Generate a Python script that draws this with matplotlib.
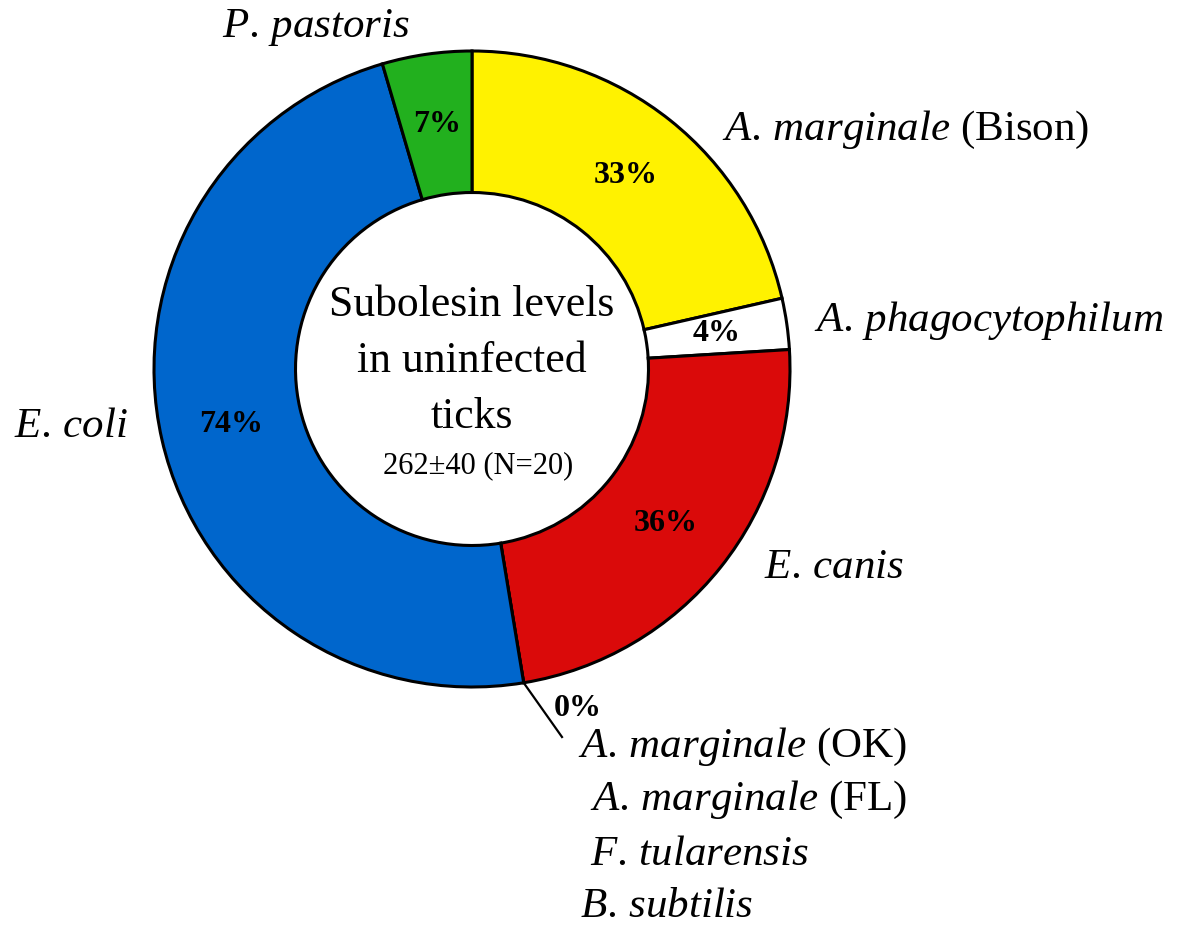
import numpy as np
import matplotlib
matplotlib.use("Agg")
import matplotlib.pyplot as plt

plt.rcParams['font.family'] = ['Liberation Serif', 'DejaVu Serif']
plt.rcParams['mathtext.fontset'] = 'custom'
plt.rcParams['mathtext.rm'] = 'Liberation Serif'
plt.rcParams['mathtext.it'] = 'Liberation Serif:italic'
plt.rcParams['mathtext.bf'] = 'Liberation Serif:bold'

# ---- data ----
organisms = ["A. marginale (Bison)", "A. phagocytophilum", "E. canis",
             "0% group", "E. coli", "P. pastoris"]
values = [33, 4, 36, 0, 74, 7]
pct_labels = ["33%", "4%", "36%", "", "74%", "7%"]
colors = ["#FFF200", "#FFFFFF", "#DA0A0A", "#FFFFFF", "#0066CC", "#22B01E"]
zero_group = ["$\\mathit{A.\\,marginale}$ (OK)",
              "$\\mathit{A.\\,marginale}$ (FL)",
              "$\\mathit{F.\\,tularensis}$",
              "$\\mathit{B.\\,subtilis}$"]

W, H = 1200, 935
CX, CY, R = 472, 369, 318   # donut centre / radius in pixels


def px(x, y):
    return (x - CX) / R, (CY - y) / R


fig = plt.figure(figsize=(W / 100, H / 100), dpi=100)
ax = fig.add_axes([0, 0, 1, 1])

ring = 0.445
wedges, _ = ax.pie(
    values, colors=colors, startangle=90, counterclock=False,
    radius=1.0, labels=None,
    wedgeprops=dict(width=ring, edgecolor='black', linewidth=2.2))

ax.set_xlim(px(0, 0)[0], px(W, 0)[0])
ax.set_ylim(px(0, H)[1], px(0, 0)[1])
ax.set_aspect('equal')
ax.axis('off')

for w, t in zip(wedges, pct_labels):
    if not t:
        continue
    th = np.deg2rad((w.theta1 + w.theta2) / 2)
    rr = 1 - ring / 2
    ax.text(rr * np.cos(th), rr * np.sin(th), t, ha='center', va='center',
            fontsize=23, fontweight='bold')

# centre text
ax.text(*px(472, 361), "Subolesin levels\nin uninfected\nticks", ha='center',
        va='center', fontsize=31.5, linespacing=1.52)
ax.text(*px(478, 466), "262±40 (N=20)", ha='center', va='center', fontsize=22)

FS = 31
# outer labels
ax.text(*px(316, 27), "$\\mathit{P.\\,pastoris}$", ha='center', va='center', fontsize=FS)
ax.text(*px(722, 130), "$\\mathit{A.\\,marginale}$ (Bison)", ha='left', va='center', fontsize=FS)
ax.text(*px(814, 320), "$\\mathit{A.\\,phagocytophilum}$", ha='left', va='center', fontsize=FS)
ax.text(*px(128, 427), "$\\mathit{E.\\,coli}$", ha='right', va='center', fontsize=FS)
ax.text(*px(764, 568), "$\\mathit{E.\\,canis}$", ha='left', va='center', fontsize=FS)

# zero slice: leader line + label list
zw = wedges[3]
th0 = np.deg2rad(zw.theta1)
ax.plot([np.cos(th0), px(562, 737)[0]], [np.sin(th0), px(562, 737)[1]],
        color='black', linewidth=1.6)
ax.text(*px(578, 708), "0%", ha='center', va='center', fontsize=23, fontweight='bold')
xs = [578, 590, 590, 580]
ys = [747, 800, 855, 907]
for x, y, s in zip(xs, ys, zero_group):
    ax.text(*px(x, y), s, ha='left', va='center', fontsize=FS)

fig.savefig("out.png", dpi=100)
